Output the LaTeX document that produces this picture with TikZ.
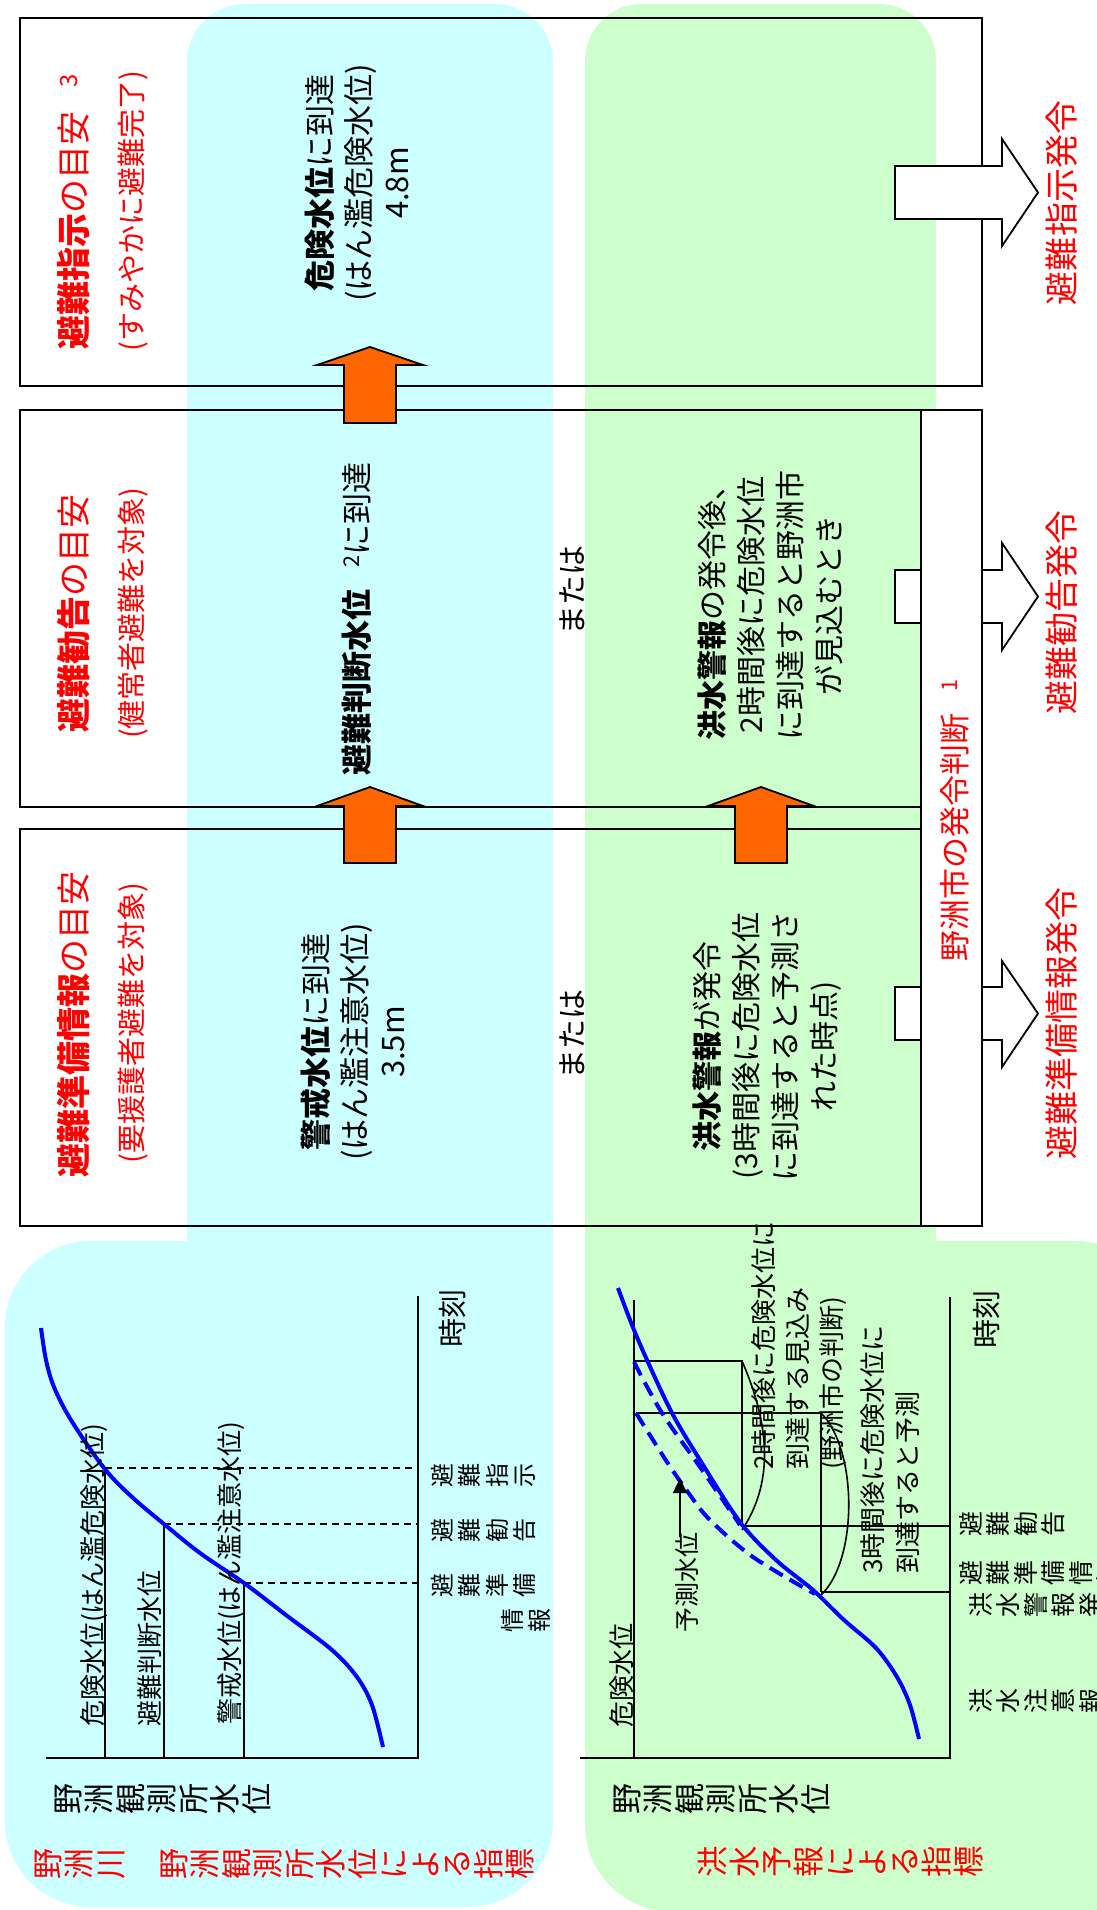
\documentclass[tikz,border=0pt]{standalone}
\usepackage{fontspec}
\setmainfont{Noto Sans CJK JP}
\usepackage{graphicx}
\usetikzlibrary{arrows.meta}
\definecolor{cyanbg}{RGB}{204,255,255}
\definecolor{greenbg}{RGB}{204,255,204}
\definecolor{orangeA}{RGB}{255,102,0}
\makeatletter
\newcommand\tatechar[1]{\rotatebox{90}{\smash{#1}\rule[-0.12em]{0pt}{1em}}}
\newcommand\tatestr[2][0pt]{\@tfor\tate@c:=#2\do{\tatechar{\tate@c}\hspace{#1}}}
\makeatother
\tikzset{
  boxline/.style={draw=black, line width=1.8pt},
  rt/.style={rotate=90, inner sep=0pt},
  redtitle/.style={rt, text=red, font=\fontsize{34}{40}\selectfont},
  redsub/.style={rt, text=red, font=\fontsize{29}{32}\selectfont},
  ctext/.style={rt, align=center, font=\fontsize{31}{38.5}\selectfont},
  gtext/.style={rt, align=center, font=\fontsize{30}{39}\selectfont},
  redorder/.style={rt, text=red, font=\fontsize{34}{40}\selectfont},
  glabel/.style={rt, anchor=west, font=\fontsize{26}{34}\selectfont},
  tatenode/.style={inner sep=0pt, anchor=west},
  orangearrow/.style={fill=orangeA, draw=black, line width=1.8pt},
  whitearrow/.style={fill=white, draw=black, line width=1.8pt},
  axisline/.style={draw=black, line width=2.6pt},
  thinline/.style={draw=black, line width=1.6pt},
  dashline/.style={draw=black, line width=1.6pt, dash pattern=on 7pt off 5pt},
  bluecurve/.style={draw=blue, line width=4pt},
  bluedash/.style={draw=blue, line width=4pt, dash pattern=on 15pt off 8pt},
}
\begin{document}
\begin{tikzpicture}[x=1pt, y=-1pt]
\useasboundingbox (0,0) rectangle (1096,1910);
% backgrounds
\fill[cyanbg, rounded corners=58pt] (187,4) rectangle (553,1400);
\fill[cyanbg, rounded corners=86pt] (5,1241) rectangle (553,1907);
\fill[greenbg, rounded corners=57pt] (585,4) rectangle (936,1400);
\fill[greenbg, rounded corners=88pt] (585,1241) rectangle (1164,1912);
% boxes
\draw[boxline] (20,18) rectangle (982,386);
\draw[boxline] (20,410) rectangle (982,807);
\draw[boxline] (20,829) rectangle (982,1226);
% white arrows
\draw[whitearrow] (895,166) -- (1002,166) -- (1002,139) -- (1038,192.5) -- (1002,246) -- (1002,219) -- (895,219) -- cycle;
\draw[whitearrow] (895,570) -- (1002,570) -- (1002,543) -- (1038,596.5) -- (1002,650) -- (1002,623) -- (895,623) -- cycle;
\draw[whitearrow] (895,987) -- (1002,987) -- (1002,961) -- (1038,1013.5) -- (1002,1067) -- (1002,1040) -- (895,1040) -- cycle;
% strip
\draw[boxline, fill=white] (921,410) rectangle (982,1226);
% orange arrows
\draw[orangearrow] (344,423) -- (344,365) -- (317,365) -- (370,347) -- (423,365) -- (396,365) -- (396,423) -- cycle;
\draw[orangearrow] (344,863) -- (344,806) -- (317,806) -- (370,787) -- (423,806) -- (396,806) -- (396,863) -- cycle;
\draw[orangearrow] (735,863) -- (735,806) -- (708,806) -- (761,787) -- (814,806) -- (787,806) -- (787,863) -- cycle;
% red titles
\node[redtitle] (t1a) at (74,212) {\textbf{避難指示}の目安\hspace{0.7em}\textsuperscript{3}};
\node[redsub] (t1b) at (133,211) {(すみやかに避難完了)};
\node[redtitle] (t2a) at (74,613) {\textbf{避難勧告}の目安};
\node[redsub] (t2b) at (133,613) {(健常者避難を対象)};
\node[redtitle] (t3a) at (74,1024) {\textbf{避難準備情報}の目安};
\node[redsub] (t3b) at (133,1023) {(要援護者避難を対象)};
% centre texts
\node[ctext] (c1) at (357,183) {\textbf{危険水位}に到達\\(はん濫危険水位)\\4.8m};
\node[ctext] (c2) at (357,619) {\textbf{避難判断水位}\hspace{0.7em}\textsuperscript{2}に到達};
\node[ctext] (c3) at (353,1042) {\textbf{警戒水位}に到達\\(はん濫注意水位)\\3.5m};
\node[rt, font=\fontsize{30}{36}\selectfont] (or1) at (572,590) {または};
\node[rt, font=\fontsize{30}{36}\selectfont] (or2) at (572,1034) {または};
\node[gtext] (g2) at (770,605) {\textbf{洪水警報}の発令後、\\2時間後に危険水位\\に到達すると野洲市\\が見込むとき};
\node[gtext] (g3) at (767,1046) {\textbf{洪水警報}が発令\\(3時間後に危険水位\\に到達すると予測さ\\れた時点)};
\node[rt, text=red, font=\fontsize{31}{36}\selectfont] (stript) at (955,820) {野洲市の発令判断\hspace{0.7em}\textsuperscript{1}};
\node[redorder] (o1) at (1062,203) {避難指示発令};
\node[redorder] (o2) at (1062,612) {避難勧告発令};
\node[redorder] (o3) at (1062,1023) {避難準備情報発令};
% ---------- left graph ----------
\draw[thinline] (105,1758) -- (105,1468);
\draw[thinline] (164,1758) -- (164,1524);
\draw[thinline] (244,1758) -- (244,1583);
\draw[dashline] (105,1468) -- (418,1468);
\draw[dashline] (164,1524) -- (418,1524);
\draw[dashline] (244,1583) -- (418,1583);
\draw[axisline] (46,1758) -- (418,1758) -- (418,1296);
\draw[bluecurve] plot[smooth, tension=0.55] coordinates {(41,1328) (46,1360) (54,1387) (71,1420) (104,1468) (132,1497) (164,1524) (200,1553) (244,1583) (286,1615) (332,1650) (357,1677) (372,1705) (383,1747)};
\node[glabel] (lk) at (94,1727) {危険水位(はん濫危険水位)};
\node[glabel] (lh) at (150,1727) {避難判断水位};
\node[glabel] (lw) at (231,1725) {警戒水位(はん濫注意水位)};
\node[rt, font=\fontsize{29}{34}\selectfont] (ltime) at (452,1318) {時刻};
\node[tatenode, font=\fontsize{24}{24}\selectfont] (ls1) at (430,1475) {\tatestr[3.5pt]{避難指示}};
\node[tatenode, font=\fontsize{24}{24}\selectfont] (ls2) at (430,1530) {\tatestr[3.5pt]{避難勧告}};
\node[tatenode, font=\fontsize{24}{24}\selectfont] (ls3) at (430,1585) {\tatestr[3.5pt]{避難準備}};
\node[tatenode, font=\fontsize{24}{24}\selectfont] (ls4) at (500,1620) {\tatestr[3.5pt]{情報}};
\node[tatenode, font=\fontsize{31}{31}\selectfont] (lax) at (52,1799) {\tatestr[0.5pt]{野洲観測所水位}};
\node[tatenode, text=red, font=\fontsize{31}{31}\selectfont] (ltitle) at (32,1864) {\tatestr[0.5pt]{野洲川　野洲観測所水位による指標}};
% ---------- right graph ----------
\draw[thinline] (634,1361) -- (742,1361) -- (742,1527);
\draw[thinline] (636,1413) -- (821,1413) -- (821,1592);
\draw[thinline] (742,1526) -- (950,1526);
\draw[thinline] (821,1592) -- (950,1592);
\draw[thinline] (742,1361) .. controls (772,1430) and (772,1485) .. (742,1530);
\draw[thinline] (821,1413) .. controls (858,1450) and (858,1560) .. (821,1595);
\draw[axisline] (634,1300) -- (634,1758);
\draw[axisline] (580,1758) -- (950,1758) -- (950,1297);
\draw[bluedash] plot[smooth, tension=0.55] coordinates {(634,1362) (662,1413) (700,1467) (740,1525)};
\draw[bluedash] plot[smooth, tension=0.55] coordinates {(636,1413) (667,1462) (690,1495) (710,1520) (753,1557) (815,1594)};
\draw[bluecurve] plot[smooth, tension=0.55] coordinates {(618,1288) (632,1325) (647,1360) (672,1413) (700,1460) (740,1522) (776,1560) (813,1590) (844,1620) (876,1648) (897,1677) (910,1705) (919,1739)};
\coordinate (yb) at (680,1537);
\coordinate (yt) at (680,1478);
\draw[line width=1.6pt, -{Triangle[length=15pt,width=14pt]}] (yb) -- (yt);
\node[glabel] (rk) at (622,1728) {危険水位};
\node[rt, anchor=west, font=\fontsize{25}{30}\selectfont] (ry) at (687,1633) {予測水位};
\node[rt, anchor=west, align=left, font=\fontsize{26}{34}\selectfont] (r2h) at (799,1470) {2時間後に危険水位に\\到達する見込み\\(野洲市の判断)};
\node[rt, anchor=west, align=left, font=\fontsize{26}{35}\selectfont] (r3h) at (890,1574) {3時間後に危険水位に\\到達すると予測};
\node[rt, font=\fontsize{29}{34}\selectfont] (rtime) at (986,1319) {時刻};
\node[tatenode, font=\fontsize{25}{25}\selectfont] (rs1) at (958,1524) {\tatestr[2.5pt]{避難勧告}};
\node[tatenode, font=\fontsize{25}{25}\selectfont] (rs2) at (958,1573) {\tatestr[2.5pt]{避難準備情報}};
\node[tatenode, font=\fontsize{25}{25}\selectfont] (rs3) at (968,1605) {\tatestr[2.5pt]{洪水警報発令}};
\node[tatenode, font=\fontsize{25}{25}\selectfont] (rs4) at (968,1701) {\tatestr[2.5pt]{洪水注意報}};
\node[tatenode, font=\fontsize{31}{31}\selectfont] (rax) at (611,1799) {\tatestr[0.5pt]{野洲観測所水位}};
\node[tatenode, text=red, font=\fontsize{31.5}{31.5}\selectfont] (rtitle) at (697,1862) {\tatestr[0.5pt]{洪水予報による指標}};
\end{tikzpicture}
\end{document}
